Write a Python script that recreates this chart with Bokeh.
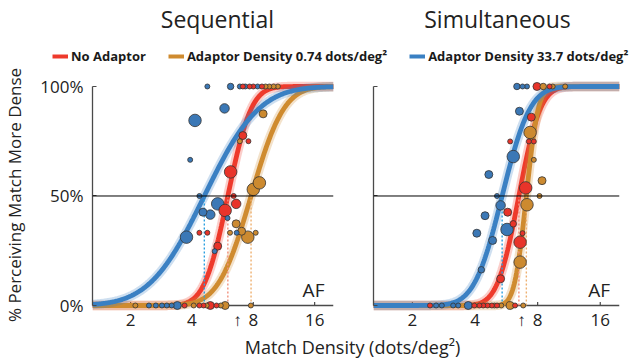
import numpy as np
from math import erf, sqrt
from bokeh.plotting import figure
from bokeh.models import (Range1d, FixedTicker, NumeralTickFormatter, PrintfTickFormatter,
                          CustomJSTickFormatter, AllLabels, Span, Label, Legend, LegendItem,
                          ColumnDataSource)
from bokeh.layouts import column, row
from bokeh.embed import file_html
from bokeh.resources import INLINE

# ---------------- data ----------------
conditions = ["No Adaptor", "Adaptor Density 0.74 dots/deg²", "Adaptor Density 33.7 dots/deg²"]
panel_titles = ["Sequential", "Simultaneous"]
x_ticks = [2, 4, 8, 16]
y_ticks = [0, 0.5, 1]
standard_density = 6.7
subject = "AF"

# fitted psychometric functions (PSE in dots/deg², spread in log2 units): red, orange, blue
seq_pse = [6.0, 7.8, 4.6]
seq_sd = [0.30, 0.42, 0.70]
sim_pse = [6.5, 7.06, 5.4]
sim_sd = [0.27, 0.15, 0.35]

# Sequential - No Adaptor
seq_red_x = [7.11, 7.67, 8.0, 8.82, 7.11, 7.57, 6.19, 6.41, 5.82, 6.59, 4.35, 4.76, 5.35, 3.68, 4.35, 4.56, 4.92, 5.28]
seq_red_p = [1, 1, 1, 1, 0.776, 0.75, 0.61, 0.50, 0.434, 0.464, 0.332, 0.332, 0.271, 0, 0, 0, 0, 0]
seq_red_n = [1, 1, 1, 1, 3, 1, 6, 1, 6, 4, 1, 1, 3, 1, 1, 1, 3, 1]
# Sequential - Adaptor 0.74
seq_org_x = [9.19, 9.58, 10.06, 10.56, 8.94, 6.87, 8.57, 8.0, 6.59, 6.15, 7.01, 7.52, 8.22, 2.11, 4.08, 4.72, 5.54, 5.82, 7.78]
seq_org_p = [1, 1, 1, 1, 0.875, 0.75, 0.56, 0.53, 0.373, 0.332, 0.339, 0.312, 0.332, 0, 0, 0, 0, 0, 0]
seq_org_n = [1, 1, 1, 1, 3, 1, 6, 6, 3, 1, 3, 6, 1, 1, 1, 1, 1, 3, 1]
# Sequential - Adaptor 33.7
seq_blu_x = [4.76, 6.19, 6.87, 7.31, 8.40, 4.14, 5.78, 3.92, 4.35, 5.35, 4.53, 4.92, 5.98, 6.63, 3.76, 5.17, 2.46, 2.66, 2.85, 3.01, 3.18, 3.39]
seq_blu_p = [1, 1, 1, 1, 1, 0.845, 0.90, 0.665, 0.50, 0.464, 0.426, 0.415, 0.399, 0.332, 0.312, 0.248, 0, 0, 0, 0, 0, 0]
seq_blu_n = [1, 2, 1, 1, 1, 6, 4, 1, 1, 6, 3, 4, 1, 1, 6, 1, 1, 1, 1, 1, 1, 3]

# Simultaneous - No Adaptor
sim_red_x = [7.94, 9.13, 7.46, 5.90, 7.26, 7.67, 7.01, 5.74, 6.11, 6.77, 6.59, 5.31, 2.43, 3.97, 4.20, 4.38, 4.59, 4.82, 5.10, 6.23]
sim_red_p = [1, 1, 0.86, 0.749, 0.749, 0.749, 0.537, 0.426, 0.373, 0.33, 0.289, 0.122, 0, 0, 0, 0, 0, 0, 0, 0]
sim_red_n = [3, 1, 3, 1, 1, 1, 6, 3, 2, 1, 6, 3, 1, 1, 1, 1, 1, 1, 1, 1]
# Simultaneous - Adaptor 0.74
sim_org_x = [8.51, 9.45, 10.85, 7.36, 7.67, 8.40, 8.17, 7.11, 6.59, 4.96, 5.35, 5.90, 6.82]
sim_org_p = [1, 1, 1, 0.79, 0.665, 0.57, 0.50, 0.46, 0.198, 0, 0, 0, 0]
sim_org_n = [2, 1, 1, 6, 1, 3, 1, 6, 6, 1, 1, 3, 1]
# Simultaneous - Adaptor 33.7
sim_blu_x = [6.36, 6.77, 7.11, 6.54, 6.11, 4.66, 5.10, 5.31, 4.47, 5.70, 4.08, 4.86, 4.29, 2.60, 2.77, 3.14, 3.32, 3.71]
sim_blu_p = [1, 1, 1, 0.887, 0.68, 0.598, 0.50, 0.457, 0.41, 0.347, 0.33, 0.297, 0.163, 0, 0, 0, 0, 0]
sim_blu_n = [2, 1, 1, 3, 6, 3, 1, 4, 3, 6, 3, 3, 2, 1, 1, 1, 1, 3]

# ---------------- style ----------------
FONT = "Open Sans"
CURVE_COLORS = ["#ee3a2c", "#cf8b2f", "#3a80c3"]
POINT_COLORS = ["#e8342a", "#cc8a30", "#3b78b6"]
THRESH_COLORS = ["#f2907c", "#eeb070", "#2a9fe0"]
X_RANGE = (1.3, 19.8)
Y_RANGE = (-0.032, 1.041)
AXIS_COLOR = "#4a4a4a"
TEXT_COLOR = "#222222"


def psychometric(x, pse, sd):
    z = (np.log2(x) - np.log2(pse)) / sd
    return np.array([0.5 * (1.0 + erf(v / sqrt(2.0))) for v in z])


def marker_size(n):
    return [3.5 + 1.5 * k for k in n]


def make_panel(left, pses, sds, series, width, bl, br):
    p = figure(width=width, height=268, x_axis_type="log", title=None,
               x_range=Range1d(*X_RANGE), y_range=Range1d(*Y_RANGE),
               output_backend="svg", toolbar_location=None,
               min_border_left=bl, min_border_right=br, min_border_top=11, min_border_bottom=22)
    p.grid.visible = False
    p.outline_line_color = None
    p.background_fill_color = "white"
    p.border_fill_color = "white"

    # zero baseline (x axis line) and 50% reference line
    p.add_layout(Span(location=0, dimension="width", line_color=AXIS_COLOR, line_width=1.3, level="underlay"))
    p.add_layout(Span(location=0.5, dimension="width", line_color="black", line_width=1))
    # inward x tick marks on the baseline
    p.segment(x0=x_ticks, y0=[0] * len(x_ticks), x1=x_ticks, y1=[0.016] * len(x_ticks),
              line_color=AXIS_COLOR, line_width=1.2, level="underlay")

    xa = p.xaxis[0]
    xa.ticker = FixedTicker(ticks=x_ticks + [standard_density])
    xa.formatter = PrintfTickFormatter(format="%d")
    xa.major_label_overrides = {standard_density: "↑"}
    xa.major_label_policy = AllLabels()
    xa.axis_line_color = None
    xa.major_tick_line_color = None
    xa.minor_tick_line_color = None
    xa.major_label_text_font = FONT
    xa.major_label_text_font_size = "17px"
    xa.major_label_text_color = TEXT_COLOR
    xa.major_label_standoff = -11

    ya = p.yaxis[0]
    ya.ticker = FixedTicker(ticks=y_ticks)
    ya.bounds = (0, 1)
    ya.axis_line_color = AXIS_COLOR
    ya.axis_line_width = 1.3
    ya.major_tick_in = 4
    ya.major_tick_out = 0
    ya.major_tick_line_color = AXIS_COLOR
    ya.minor_tick_line_color = None
    ya.major_label_text_font = FONT
    ya.major_label_text_font_size = "17px"
    ya.major_label_text_color = TEXT_COLOR
    ya.major_label_standoff = 9
    if left:
        ya.formatter = NumeralTickFormatter(format="0%")
        ya.axis_label = "% Perceiving Match More Dense"
        ya.axis_label_text_font = FONT
        ya.axis_label_text_font_size = "17px"
        ya.axis_label_text_font_style = "normal"
        ya.axis_label_text_color = TEXT_COLOR
        ya.axis_label_standoff = 11
    else:
        ya.formatter = CustomJSTickFormatter(code="return ''")

    xc = np.logspace(np.log10(X_RANGE[0]), np.log10(X_RANGE[1]), 300)
    for i in range(3):
        yc = psychometric(xc, pses[i], sds[i])
        p.line(xc, yc, line_color=CURVE_COLORS[i], line_width=9.5, line_alpha=0.25)
        p.line(xc, yc, line_color=CURVE_COLORS[i], line_width=4.8)

    p.segment(x0=pses, y0=[0, 0, 0], x1=pses, y1=[0.5, 0.5, 0.5],
              line_color=THRESH_COLORS, line_width=1.4, line_dash="2 2")

    xs, ps, ss, cs = [], [], [], []
    for i, (sx, sp, sn) in enumerate(series):
        xs += list(sx)
        ps += list(sp)
        ss += marker_size(sn)
        cs += [POINT_COLORS[i]] * len(sx)
    order = np.argsort(ss, kind="stable")[::-1]
    src = ColumnDataSource(dict(x=[xs[k] for k in order], y=[ps[k] for k in order],
                                s=[ss[k] for k in order], c=[cs[k] for k in order]))
    p.scatter("x", "y", size="s", source=src, fill_color="c", line_color="#333333", line_width=0.8)

    p.add_layout(Label(x=15.8, y=0.072, text=subject, text_align="center", text_baseline="middle",
                       text_font=FONT, text_font_size="19px", text_color=TEXT_COLOR))
    return p


left = make_panel(True, seq_pse, seq_sd,
                  [(seq_red_x, seq_red_p, seq_red_n), (seq_org_x, seq_org_p, seq_org_n),
                   (seq_blu_x, seq_blu_p, seq_blu_n)], 340, 86, 7)
right = make_panel(False, sim_pse, sim_sd,
                   [(sim_red_x, sim_red_p, sim_red_n), (sim_org_x, sim_org_p, sim_org_n),
                    (sim_blu_x, sim_blu_p, sim_blu_n)], 289, 33, 10)

# header with titles and legend
header = figure(width=629, height=66, x_range=Range1d(0, 629), y_range=Range1d(66, 0),
                toolbar_location=None, output_backend="svg", min_border=0, title=None,
                x_axis_location=None, y_axis_location=None)
header.grid.visible = False
header.outline_line_color = None
header.border_fill_color = "white"
for cx, t in zip([217, 497], panel_titles):
    header.add_layout(Label(x=cx, y=18, text=t, text_align="center", text_baseline="middle",
                            text_font=FONT, text_font_size="23px", text_color=TEXT_COLOR))
items = []
for i, name in enumerate(conditions):
    r = header.line(x=[-100, -90], y=[-100, -100], line_color=CURVE_COLORS[i], line_width=4)
    items.append(LegendItem(label=name, renderers=[r]))
legend = Legend(items=items, orientation="horizontal", location=(52, 1),
                glyph_width=16, glyph_height=14, label_standoff=3, spacing=22,
                padding=0, margin=0, border_line_color=None, background_fill_alpha=0,
                label_text_font=FONT, label_text_font_size="13px", label_text_font_style="bold",
                label_text_color="#1a1a1a")
header.add_layout(legend)

footer = figure(width=629, height=28, x_range=Range1d(0, 629), y_range=Range1d(28, 0),
                toolbar_location=None, output_backend="svg", min_border=0, title=None,
                x_axis_location=None, y_axis_location=None)
footer.grid.visible = False
footer.outline_line_color = None
footer.border_fill_color = "white"
footer.add_layout(Label(x=352, y=12, text="Match Density (dots/deg²)", text_align="center",
                        text_baseline="middle", text_font=FONT, text_font_size="18px",
                        text_color=TEXT_COLOR))

layout = column(header, row(left, right), footer)
open("out.html", "w").write(file_html(layout, INLINE))
